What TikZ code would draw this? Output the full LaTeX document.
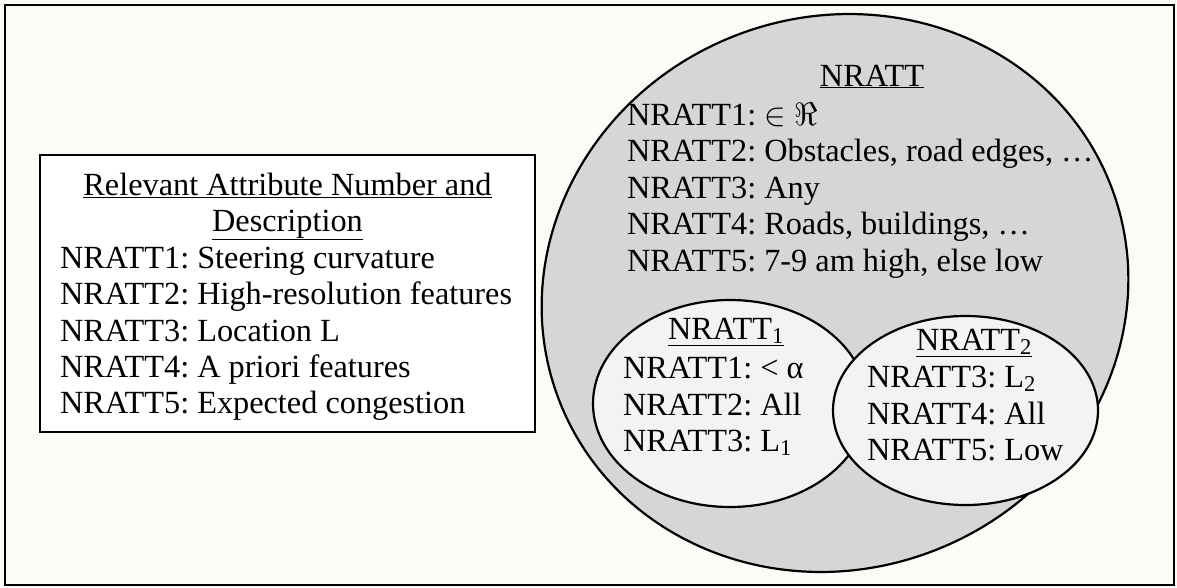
\RequirePackage{fix-cm}
\documentclass[tikz,border=0pt]{standalone}
\usepackage{fontspec}
\setmainfont{Liberation Serif}
\usetikzlibrary{shapes.geometric}
\definecolor{bg}{RGB}{252,251,248}
\definecolor{bigfill}{RGB}{214,214,212}
\definecolor{smallfill}{RGB}{243,243,241}
\frenchspacing
\begin{document}
\begin{tikzpicture}[x=1pt, y=-1pt,
  every node/.style={inner sep=0pt, outer sep=0pt},
  txt/.style={font=\fontsize{32.3}{36}\selectfont, anchor=base west},
  ttl/.style={font=\fontsize{32.3}{36}\selectfont, anchor=base},
  outline/.style={draw=black, line width=2.2pt}]
\useasboundingbox (0,0) rectangle (1177,587);
\fill[bg] (0,0) rectangle (1177,587);
\node[outline, minimum width=1169pt, minimum height=580pt, anchor=north west] (frame) at (5,5) {};
% left box
\node[outline, fill=white, minimum width=495pt, minimum height=277pt, anchor=north west] (box) at (40,155) {};
\node[ttl] (bt1) at (287.5,195) {\underline{Relevant Attribute Number and}};
\node[ttl] (bt2) at (287.5,231) {\underline{Description}};
\node[txt] (b1) at (60,268) {NRATT1: Steering curvature};
\node[txt] (b2) at (60,304.5) {NRATT2: High-resolution features};
\node[txt] (b3) at (60,341) {NRATT3: Location L};
\node[txt] (b4) at (60,377) {NRATT4: A priori features};
\node[txt] (b5) at (60,413) {NRATT5: Expected congestion};
% ellipses
\node[ellipse, outline, fill=bigfill, minimum width=592pt, minimum height=552pt, rotate=22] (big) at (835,293) {};
\node[ellipse, outline, fill=smallfill, minimum width=274pt, minimum height=207pt] (e1) at (730,403.5) {};
\node[ellipse, outline, fill=smallfill, minimum width=265pt, minimum height=189pt] (e2) at (965.5,410.5) {};
% big ellipse text
\node[ttl] (nt) at (872,86) {\underline{NRATT}};
\node[txt] (n1) at (627,125) {NRATT1: $\in\Re$};
\node[txt] (n2) at (627,161) {NRATT2: Obstacles, road edges, …};
\node[txt] (n3) at (627,198) {NRATT3: Any};
\node[txt] (n4) at (627,234) {NRATT4: Roads, buildings, …};
\node[txt] (n5) at (627,271) {NRATT5: 7-9 am high, else low};
% ellipse 1 text
\node[ttl] (at) at (726,339) {\underline{NRATT\textsubscript{1}}};
\node[txt] (a1) at (623,378) {NRATT1: < α};
\node[txt] (a2) at (623,415) {NRATT2: All};
\node[txt] (a3) at (623,451) {NRATT3: L\textsubscript{1}};
% ellipse 2 text
\node[ttl] (ct) at (974,350) {\underline{NRATT\textsubscript{2}}};
\node[txt] (c1) at (867,387) {NRATT3: L\textsubscript{2}};
\node[txt] (c2) at (867,424) {NRATT4: All};
\node[txt] (c3) at (867,460) {NRATT5: Low};
\end{tikzpicture}
\end{document}
